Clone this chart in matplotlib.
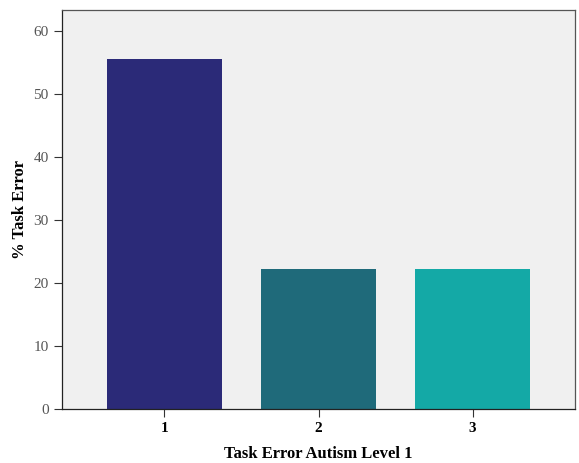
import matplotlib
matplotlib.use("Agg")
import matplotlib.pyplot as plt

categories = ["1", "2", "3"]
values = [55.6, 22.2, 22.2]
colors = ["#2b2a78", "#1f6a7a", "#14a9a6"]
yticks = [0, 10, 20, 30, 40, 50, 60]

plt.rcParams['font.family'] = ['Liberation Serif', 'DejaVu Serif']

fig = plt.figure(figsize=(5.79, 4.63), dpi=100)
ax = fig.add_axes([62/579, 1-409/463, (575-62)/579, (409-10)/463])
ax.set_facecolor("#f0f0f0")
x = [1, 2, 3]
ax.bar(x, values, width=0.75, color=colors, edgecolor="none")
ax.set_xlim(0.335, 3.665)
ax.set_ylim(0, 63.3)
ax.set_yticks(yticks)
ax.set_yticklabels([str(t) for t in yticks], color="#555555", fontsize=11)
ax.set_xticks(x)
ax.set_xticklabels(categories, fontweight="bold", fontsize=11)
ax.tick_params(axis="both", direction="out", length=6, width=0.8, color="#333333")
ax.tick_params(axis="x", pad=3)
for s in ax.spines.values():
    s.set_color("#555555")
    s.set_linewidth(0.9)
ax.spines["left"].set_color("#222222")
ax.spines["bottom"].set_color("#222222")
ax.set_xlabel("Task Error Autism Level 1", fontweight="bold", fontsize=12, labelpad=8)
ax.set_ylabel("% Task Error", fontweight="bold", fontsize=12, labelpad=4)
fig.savefig("out.png", dpi=100, facecolor="white")
